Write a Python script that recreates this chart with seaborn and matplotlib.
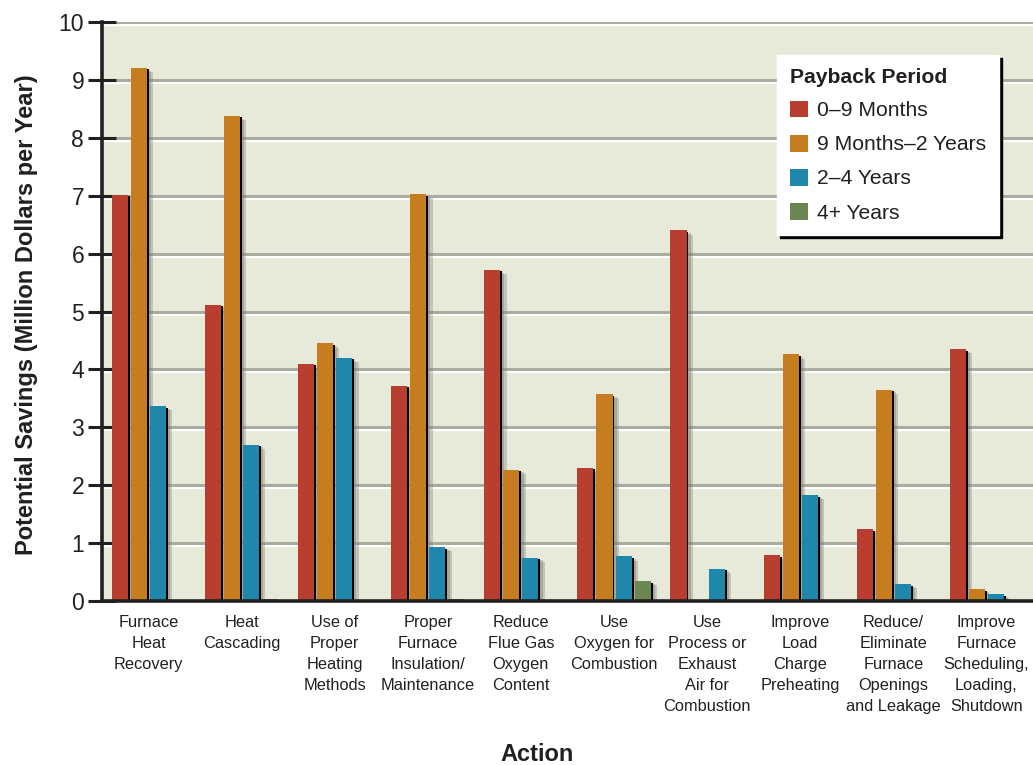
import numpy as np
import pandas as pd
import seaborn as sns
import matplotlib.pyplot as plt
import matplotlib.patheffects as pe
from matplotlib import transforms

# Actions (x categories) and payback periods (hue levels)
actions = [
    "Furnace\nHeat\nRecovery",
    "Heat\nCascading",
    "Use of\nProper\nHeating\nMethods",
    "Proper\nFurnace\nInsulation/\nMaintenance",
    "Reduce\nFlue Gas\nOxygen\nContent",
    "Use\nOxygen for\nCombustion",
    "Use\nProcess or\nExhaust\nAir for\nCombustion",
    "Improve\nLoad\nCharge\nPreheating",
    "Reduce/\nEliminate\nFurnace\nOpenings\nand Leakage",
    "Improve\nFurnace\nScheduling,\nLoading,\nShutdown",
]
periods = ["0–9 Months", "9 Months–2 Years", "2–4 Years", "4+ Years"]

# Potential savings, million dollars per year
savings_0_9m = [7.02, 5.12, 4.10, 3.72, 5.72, 2.30, 6.40, 0.79, 1.24, 4.35]
savings_9m_2y = [9.21, 8.38, 4.45, 7.03, 2.27, 3.57, 0.00, 4.26, 3.65, 0.20]
savings_2_4y = [3.37, 2.70, 4.20, 0.93, 0.75, 0.77, 0.56, 1.83, 0.29, 0.12]
savings_4y_plus = [0.00, 0.04, 0.00, 0.04, 0.00, 0.34, 0.00, 0.00, 0.00, 0.00]

colors = ["#B83F30", "#C67D1F", "#1F87AB", "#6B8650"]
bg = "#E8EAD9"
ink = "#231F20"

df = pd.DataFrame({
    "Action": actions * 4,
    "Payback Period": np.repeat(periods, len(actions)),
    "Savings": savings_0_9m + savings_9m_2y + savings_2_4y + savings_4y_plus,
})

sns.set_theme(style="white")
plt.rcParams["font.family"] = ["Liberation Sans", "DejaVu Sans"]
plt.rcParams["text.color"] = ink
plt.rcParams["axes.labelcolor"] = ink
plt.rcParams["xtick.color"] = ink
plt.rcParams["ytick.color"] = ink

fig = plt.figure(figsize=(10.33, 7.65), dpi=100)
ax = fig.add_axes([0.0987, 0.2144, 0.9013, 0.7568])
ax.set_facecolor(bg)

# Gridlines: grey line with a white highlight just below
below = transforms.offset_copy(ax.get_yaxis_transform(), fig=fig, x=0, y=-2.2, units="points")
for v in range(1, 11):
    ax.axhline(v, color="#A8AE9F", lw=2.2, zorder=0.5)
    hl = ax.axhline(v, color="white", lw=1.6, zorder=0.4)
    hl.set_transform(below)

sns.barplot(
    data=df, x="Action", y="Savings", hue="Payback Period",
    hue_order=periods, palette=colors, width=0.82, gap=0.16,
    saturation=1, errorbar=None, ax=ax, zorder=3, linewidth=0,
)

shadow = [
    pe.SimplePatchShadow(offset=(4.5, -3), shadow_rgbFace="#7d8077", alpha=0.35),
    pe.SimplePatchShadow(offset=(3, -2), shadow_rgbFace="#6d7068", alpha=0.35),
    pe.SimplePatchShadow(offset=(1.4, -1.2), shadow_rgbFace="black", alpha=1.0),
    pe.Normal(),
]
for p in ax.patches:
    if p.get_height() > 0:
        p.set_path_effects(shadow)

ax.set_xlim(-0.5, 9.5)
ax.set_ylim(0, 10)
ax.set_yticks(range(0, 11))
ax.tick_params(axis="y", direction="inout", length=19.5, width=2.2, labelsize=16.5,
               pad=3, color=ink, left=True)
ax.tick_params(axis="x", length=0, labelsize=11.8, pad=10)
for lbl in ax.get_xticklabels():
    lbl.set_linespacing(1.5)

for s in ["top", "right"]:
    ax.spines[s].set_visible(False)
for s in ["left", "bottom"]:
    ax.spines[s].set_color(ink)
    ax.spines[s].set_linewidth(2.6)
    ax.spines[s].set_zorder(5)

ax.set_ylabel("Potential Savings (Million Dollars per Year)", fontsize=17, fontweight="bold")
ax.yaxis.set_label_coords(-0.069, 0.495)
ax.set_xlabel("Action", fontsize=17, fontweight="bold")
ax.xaxis.label.set_va("baseline")
ax.xaxis.set_label_coords(0.467, -0.277)

leg = ax.legend(
    title="Payback Period", loc="upper right", bbox_to_anchor=(0.9635, 0.943),
    fontsize=15.2, title_fontproperties={"weight": "bold", "size": 15.2},
    alignment="left", frameon=True, fancybox=False, shadow={"color": "black", "alpha": 1.0},
    handlelength=0.85, handleheight=0.85, handletextpad=0.45, labelspacing=0.68,
    borderpad=0.6, borderaxespad=0,
)
leg.get_frame().set_facecolor("white")
leg.get_frame().set_edgecolor("white")
leg.get_frame().set_alpha(1)
leg.set_zorder(10)
# gap between the title and the entries
leg._legend_box.sep = 10

fig.savefig("out.png", dpi=100, facecolor="white")
